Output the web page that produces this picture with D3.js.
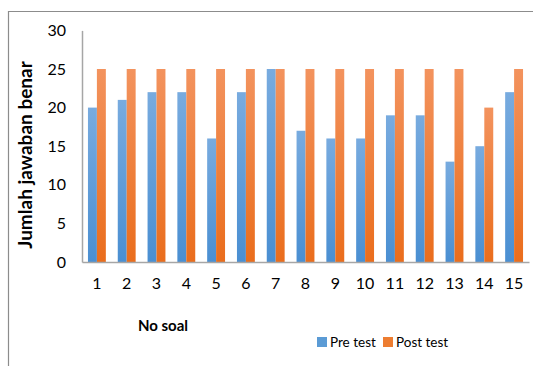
<!DOCTYPE html>
<html><head><meta charset="utf-8">
<script src="https://cdn.jsdelivr.net/npm/d3@7"></script>
<style>html,body{margin:0;padding:0;background:#fff;}svg{display:block;}</style>
</head><body>
<svg id="c" width="533" height="366"></svg>
<script>
const categories = ["1","2","3","4","5","6","7","8","9","10","11","12","13","14","15"];
const preTest  = [20,21,22,22,16,22,25,17,16,16,19,19,13,15,22];
const postTest = [25,25,25,25,25,25,25,25,25,25,25,25,25,20,25];
const seriesNames = ["Pre test","Post test"];
const yTicks = [0,5,10,15,20,25,30];

const svg = d3.select("#c");
const font = "Lato, 'Open Sans', sans-serif";
const W = 533, H = 366;
const m = {left: 82, right: 4, top: 31, bottom: 104};

const defs = svg.append("defs");
function grad(id, top, bottom){
  const g = defs.append("linearGradient").attr("id", id).attr("x1",0).attr("y1",0).attr("x2",0).attr("y2",1);
  g.append("stop").attr("offset","0%").attr("stop-color",top);
  g.append("stop").attr("offset","100%").attr("stop-color",bottom);
}
grad("gBlue", "#78abdf", "#4a8fd2");
grad("gOrange", "#f3935e", "#ea6d1c");
const fills = ["url(#gBlue)","url(#gOrange)"];
const legendFills = ["#5b9bd5","#ed7d31"];

// outer frame (top and left only, visible part)
svg.append("line").attr("x1",8).attr("x2",W).attr("y1",11.5).attr("y2",11.5).attr("stroke","#8c8c8c").attr("stroke-width",1.2);
svg.append("line").attr("x1",8.5).attr("x2",8.5).attr("y1",11).attr("y2",H).attr("stroke","#8c8c8c").attr("stroke-width",1.2);

const x0 = d3.scaleBand().domain(categories).range([m.left, W - m.right]).paddingInner(0.4).paddingOuter(0.2);
const x1 = d3.scaleBand().domain(seriesNames).range([0, x0.bandwidth()]);
const y = d3.scaleLinear().domain([0,30]).range([262, 30.4]);

// bars
const data = categories.map((c,i)=>({c, vals:[preTest[i], postTest[i]]}));
const g = svg.append("g");
g.selectAll("g.grp").data(data).join("g").attr("class","grp")
  .attr("transform", d=>`translate(${x0(d.c)},0)`)
  .selectAll("rect").data(d=>d.vals.map((v,j)=>({v,j}))).join("rect")
  .attr("x", d=>x1(seriesNames[d.j]))
  .attr("width", x1.bandwidth())
  .attr("y", d=>y(d.v))
  .attr("height", d=>y(0)-y(d.v))
  .attr("fill", d=>fills[d.j]);

// y axis
const yAxis = d3.axisLeft(y).tickValues(yTicks).tickSize(0).tickPadding(16);
const ya = svg.append("g").attr("transform",`translate(${m.left},0)`).call(yAxis);
ya.select(".domain").attr("stroke","#a6a6a6").attr("stroke-width",1.5);
ya.selectAll("text").attr("font-family",font).attr("font-size",16).attr("fill","#000");

// x axis
const xAxis = d3.axisBottom(x0).tickSize(0).tickPadding(16);
const xa = svg.append("g").attr("transform",`translate(0,${y(0)})`).call(xAxis);
xa.select(".domain").attr("stroke","#a6a6a6").attr("stroke-width",1.5);
xa.selectAll("text").attr("font-family",font).attr("font-size",16).attr("fill","#000");

// axis titles
svg.append("text").attr("transform","translate(32,155) rotate(-90)")
  .attr("text-anchor","middle").attr("font-family",font).attr("font-weight","bold").attr("font-size",19)
  .text("Jumlah jawaban benar");
svg.append("text").attr("x",163).attr("y",331).attr("text-anchor","middle")
  .attr("font-family",font).attr("font-weight","bold").attr("font-size",15).text("No soal");

// legend
const legX = [317, 383];
const lg = svg.append("g");
seriesNames.forEach((s,i)=>{
  lg.append("rect").attr("x",legX[i]).attr("y",337).attr("width",10).attr("height",10).attr("fill",legendFills[i]);
  lg.append("text").attr("x",legX[i]+13).attr("y",347).attr("font-family",font).attr("font-size",13.5).text(s);
});
</script>
</body></html>
